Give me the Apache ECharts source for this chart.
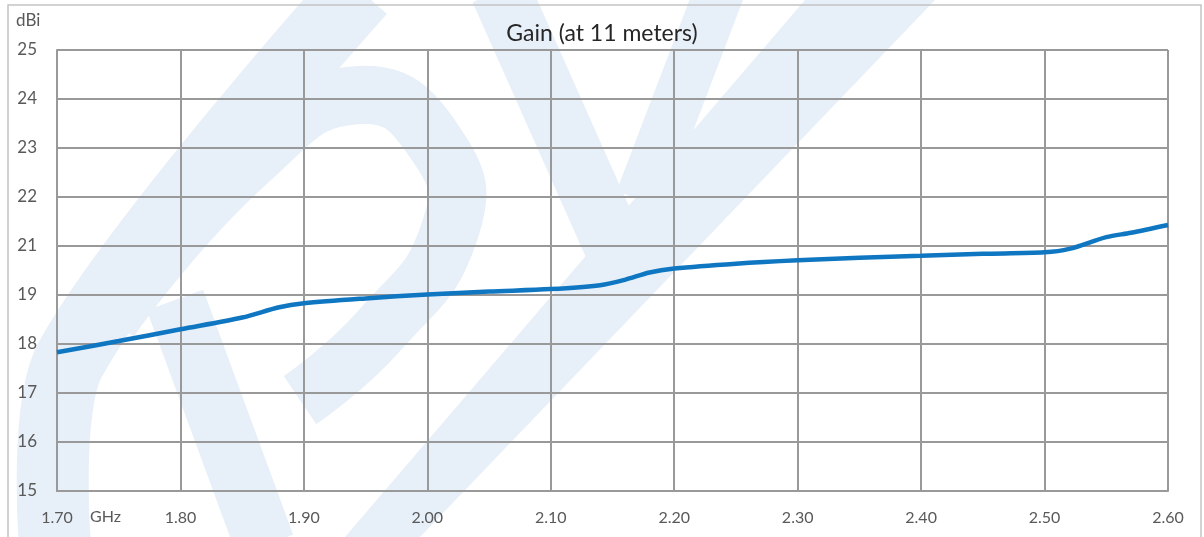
<!DOCTYPE html>
<html>
<head>
<meta charset="utf-8">
<script src="https://cdn.jsdelivr.net/npm/echarts@6/dist/echarts.min.js"></script>
<style>
html,body{margin:0;padding:0;background:#fff;}
#chart{width:1204px;height:537px;}
</style>
</head>
<body>
<div id="chart"></div>
<script>
// Frequency (GHz)
const freqs = [1.70, 1.75, 1.80, 1.85, 1.88, 1.90, 1.95, 2.00, 2.05, 2.10, 2.14, 2.16, 2.18, 2.20, 2.25, 2.30, 2.35, 2.40, 2.45, 2.50, 2.52, 2.55, 2.57, 2.60];
// Gain, in axis-position units (gridlines evenly spaced; labels below)
const gain = [17.83, 18.06, 18.30, 18.54, 18.75, 18.83, 18.93, 19.01, 19.07, 19.12, 19.20, 19.31, 19.46, 19.54, 19.64, 19.71, 19.76, 19.80, 19.84, 19.87, 19.94, 20.18, 20.27, 20.43];
// Y tick labels as printed on the chart (no "20")
const yTickLabels = ['15', '16', '17', '18', '19', '21', '22', '23', '24', '25'];
const xTickMin = 1.7, xTickMax = 2.6, xTickStep = 0.1;

const FONT = 'Lato';
const GRIDC = '#999999';
const WM = '#e7eff8';

const chart = echarts.init(document.getElementById('chart'));
chart.setOption({
  backgroundColor: '#ffffff',
  animation: false,
  title: {
    text: 'Gain (at 11 meters)',
    left: 'center',
    top: 17,
    textStyle: {fontFamily: FONT, fontSize: 23, fontWeight: 'normal', color: '#262626'}
  },
  grid: {left: 57, right: 36, top: 50, bottom: 46, containLabel: false},
  xAxis: {
    type: 'value',
    min: xTickMin, max: xTickMax, interval: xTickStep,
    axisLine: {show: true, lineStyle: {color: GRIDC, width: 2}},
    axisTick: {show: false},
    splitLine: {show: true, lineStyle: {color: GRIDC, width: 2}},
    axisLabel: {
      formatter: v => v.toFixed(2),
      fontFamily: FONT, fontSize: 16, color: '#595959', margin: 19
    }
  },
  yAxis: {
    type: 'value',
    min: 15, max: 24, interval: 1,
    axisLine: {show: true, lineStyle: {color: GRIDC, width: 2}},
    axisTick: {show: false},
    splitLine: {show: true, lineStyle: {color: GRIDC, width: 2}},
    axisLabel: {
      formatter: v => yTickLabels[Math.round(v - 15)],
      fontFamily: FONT, fontSize: 17, color: '#595959', margin: 20
    }
  },
  graphic: [
    // faint watermark approximation
    {type: 'polyline', z: -10, shape: {points: [[360, -10], [70, 360], [55, 545]], smooth: 0.3},
      style: {stroke: WM, lineWidth: 72, fill: null}},
    {type: 'polyline', z: -10, shape: {points: [[110, 320], [250, 160], [360, 95], [440, 150], [450, 230], [380, 330], [300, 400]], smooth: 0.5},
      style: {stroke: WM, lineWidth: 58, fill: null}},
    {type: 'polyline', z: -10, shape: {points: [[175, 300], [265, 545]]},
      style: {stroke: WM, lineWidth: 60, fill: null}},
    {type: 'polygon', z: -10, shape: {points: [[805, 0], [935, 0], [420, 537], [345, 537]]},
      style: {fill: WM}},
    {type: 'polyline', z: -10, shape: {points: [[500, -10], [620, 260]]},
      style: {stroke: WM, lineWidth: 60, fill: null}},
    {type: 'polyline', z: -10, shape: {points: [[720, -10], [640, 200]]},
      style: {stroke: WM, lineWidth: 50, fill: null}},
    // outer frame
    {type: 'rect', z: 10, shape: {x: 8, y: 5, width: 1193, height: 540},
      style: {fill: null, stroke: '#c4c4c4', lineWidth: 1.5}},
    {type: 'text', z: 10, left: 16, top: 12,
      style: {text: 'dBi', fontFamily: FONT, fontSize: 17, fill: '#595959'}},
    {type: 'text', z: 10, left: 90, top: 509,
      style: {text: 'GHz', fontFamily: FONT, fontSize: 16, fill: '#595959'}}
  ],
  series: [{
    type: 'line',
    data: freqs.map((f, i) => [f, gain[i]]),
    smooth: 0.3,
    showSymbol: false,
    lineStyle: {color: '#0f76c2', width: 4.5},
    z: 5
  }]
});
</script>
</body>
</html>
